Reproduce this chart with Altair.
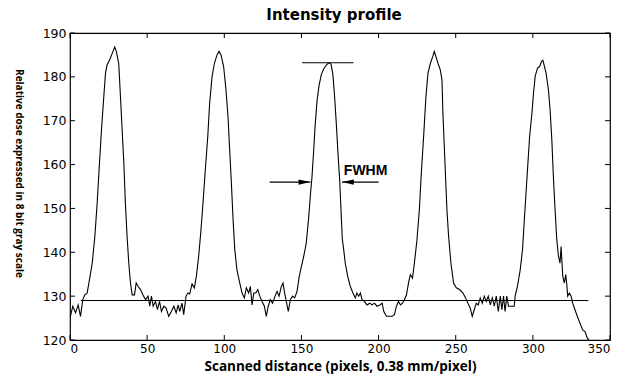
import altair as alt
import pandas as pd

# ---- data ----
profile_x = [0, 1.8, 3.6, 5.3, 6.8, 8.3, 9.6, 11.1, 12.6, 14.4, 16.1, 17.6, 19.1, 20.4, 21.9, 23, 24, 25.6,
             27.3, 29, 29.9, 30.5, 31.6, 32.7, 33.8, 34.9, 35.9, 37, 38.1, 39.2, 40.3, 41.8, 42.9, 44.2,
             45.7, 47.2, 49, 50.6, 51.7, 52.8, 53.9, 55.4, 56.7, 58, 59.3, 60.8, 62.3, 64, 65.7, 67.3,
             68.8, 70.1, 71.1, 72.6, 73.7, 75.2, 76.5, 77.6, 79.1, 80.6, 81.9, 83.4, 84.9, 86.2, 87.7,
             89.3, 90.5, 92.1, 93.6, 95.3, 96.6, 97.9, 99.6, 101.1, 102.4, 103.5, 104.6, 105.7, 106.8,
             108.2, 110, 111.5, 113, 114.3, 115.8, 116.9, 118, 119.1, 120.4, 121.7, 123, 124.5, 126,
             127.2, 128.5, 129.8, 131.3, 132.9, 134.2, 135.5, 137, 138.1, 139.1, 140.2, 141.5, 142.8,
             144.3, 145.6, 147.1, 148.6, 150, 151.5, 153.1, 154.6, 155.8, 156.8, 157.9, 158.9, 160.1,
             161.4, 162.9, 164.4, 166.1, 167.7, 169.2, 170.4, 171.5, 172.6, 173.7, 174.8, 175.6, 176.5,
             177.4, 178.4, 180, 181.7, 183.4, 184.9, 186, 187.1, 188.2, 189.3, 190.8, 192.5, 194.3,
             195.8, 197.3, 199, 200.8, 202.3, 203.4, 205.1, 206.8, 208.8, 210.3, 211.6, 212.9, 214.2,
             215.5, 216.8, 218.1, 219.5, 220.6, 222, 223.2, 224.8, 226.4, 227.7, 229.2, 230.7, 232,
             233.6, 235.1, 236.1, 237.2, 238.5, 240, 241.1, 241.7, 242.6, 243.5, 244.3, 245.4, 246.9,
             248.6, 250.4, 252.5, 254.7, 256.4, 257.9, 259.4, 260.7, 262, 263.3, 264.6, 265.9, 267.2,
             268.5, 269.8, 271.1, 272.4, 273.7, 275, 276.3, 277.6, 278.9, 279.9, 281, 282, 283.1,
             284.2, 286.3, 287.9, 288.5, 290, 291.8, 293.3, 294.6, 296.1, 297.9, 299.4, 300.4, 301.5,
             303, 304.3, 305.6, 306.5, 307.3, 308.6, 310.1, 311.2, 312.3, 313.3, 314.4, 315.5, 316.6,
             317.6, 318.3, 319.4, 320.4, 321.3, 321.9, 322.6, 323.7, 324.8, 325.8, 327.3, 328.8, 330.6,
             332.3, 333.8, 335.3, 336.4]
profile_y = [125, 127.7, 126.2, 128, 125.4, 129.2, 130.3, 130.7, 133.7, 137.5, 143.6, 151.2, 160.3, 167.9,
             175.5, 180.8, 182.7, 183.8, 185.3, 186.8, 186, 185, 183, 175.5, 167.9, 160.3, 151.2, 143.6,
             137.5, 133, 130.3, 130.3, 133, 132.2, 131.5, 130.3, 129.2, 130, 127.7, 130, 127.7, 128.8,
             126.9, 128.8, 126.5, 127.7, 127.3, 125.4, 126.5, 127.7, 126.2, 128, 126.5, 128.4, 125.8,
             130, 130.7, 130.5, 132.8, 131.9, 134.5, 139.1, 145.1, 151.2, 158.8, 166.4, 174, 180.1,
             183.1, 185, 185.8, 185, 182.3, 177, 171, 163.4, 155.8, 147.4, 140.6, 136, 133, 130.7,
             129.6, 131.9, 130.7, 132.2, 128, 130.7, 130.7, 131.5, 130, 128.8, 127.7, 125.4, 127.7,
             129.2, 128.4, 130, 131.1, 130, 132.2, 133, 130.7, 128.8, 126.5, 129.2, 130, 129.6, 131,
             134.5, 136.8, 139.1, 142, 147.5, 153, 157, 163, 169, 174.5, 178, 180.5, 181.8, 182.7,
             183.2, 182.9, 180.5, 175.5, 169.4, 162.5, 156.5, 150, 143, 140.6, 137.5, 134.5, 132.2,
             130.7, 129.6, 130.7, 130, 130.7, 129.2, 128.8, 128, 128.4, 128, 128.4, 127.7, 128, 128.4,
             126.5, 125.4, 125.4, 125.4, 125.8, 127.7, 128.8, 128, 128.4, 129.2, 130.3, 133.2, 134.9,
             134.1, 137.5, 142.5, 149.5, 158, 166.4, 175.5, 180.8, 183.1, 184.6, 185.8, 184.6, 183.1,
             181.6, 179.3, 171.7, 164.1, 156.5, 149.7, 143.6, 137.5, 133, 131.9, 131.5, 130.7, 129.6,
             128.4, 127.3, 125.4, 126.9, 128.4, 128, 129.6, 128.4, 130, 128.8, 130, 128, 129.6, 127.7,
             130, 126.5, 130, 126.9, 130, 126.5, 130, 127.7, 127.7, 127.7, 130, 132.2, 136, 140.6,
             148.1, 156.5, 166.4, 171.7, 176.2, 180.1, 182, 182.3, 183.5, 183.8, 182.7, 180.8, 177,
             172.4, 165.6, 157.3, 149.7, 142.9, 139.1, 137.5, 141.3, 134.5, 133, 134.9, 133, 130,
             130.7, 130, 128.4, 126.9, 125.4, 123.8, 122.3, 121.9, 120.4, 120]

x_ticks = [0, 50, 100, 150, 200, 250, 300, 350]
y_ticks = [120, 130, 140, 150, 160, 170, 180, 190]

# annotation values (data units)
baseline_level = [129]
baseline_from = [7]
baseline_to = [336]
peak_level = [183.2]
peak_from = [150.4]
peak_to = [183.8]
arrow_level = [156]
arrow_left_from = [129.4]
arrow_left_tip = [155.8]
arrow_right_from = [200]
arrow_right_tip = [176.3]
label_text = ["FWHM"]
label_x = [177.5]
label_y = [157.6]

W, H = 540, 307
FONT = "DejaVu Sans"

df = pd.DataFrame({"x": profile_x, "y": profile_y})
xscale = alt.Scale(domain=[0, 350], nice=False, zero=False)
yscale = alt.Scale(domain=[120, 190], nice=False, zero=False)

line = alt.Chart(df).mark_line(color="black", strokeWidth=1.1, clip=True).encode(
    x=alt.X("x:Q", scale=xscale, axis=alt.Axis(
        values=x_ticks, ticks=False, domain=False, grid=False, labelPadding=3,
        labelFont=FONT, labelFontSize=12, labelColor="black",
        title="Scanned distance (pixels, 0.38 mm/pixel)",
        titleFont="Open Sans", titleFontSize=13.5, titleFontWeight="bold", titleColor="black",
        titlePadding=5)),
    y=alt.Y("y:Q", scale=yscale, axis=alt.Axis(
        values=y_ticks, ticks=False, domain=False, grid=False, labelPadding=4,
        labelFont=FONT, labelFontSize=12.5, labelColor="black",
        title="Relative dose expressed in 8 bit gray scale",
        titleFont="Open Sans", titleFontSize=10, titleFontWeight="bold", titleColor="black",
        titleAngle=90, titleX=-52, titleY=140, titleAlign="center", titleBaseline="middle")),
)

hline_df = pd.DataFrame({"y": baseline_level + peak_level,
                         "x1": baseline_from + peak_from,
                         "x2": baseline_to + peak_to})
hlines = alt.Chart(hline_df).mark_rule(color="black", strokeWidth=1.1).encode(
    x=alt.X("x1:Q", scale=xscale), x2="x2:Q", y=alt.Y("y:Q", scale=yscale))

arrow_df = pd.DataFrame({"y": arrow_level * 2,
                         "x1": arrow_left_from + arrow_right_from,
                         "x2": arrow_left_tip + arrow_right_tip})
shafts = alt.Chart(arrow_df).mark_rule(color="black", strokeWidth=1.2).encode(
    x=alt.X("x1:Q", scale=xscale), x2="x2:Q", y=alt.Y("y:Q", scale=yscale))

head_r = alt.Chart(pd.DataFrame({"x": arrow_left_tip, "y": arrow_level})).mark_point(
    shape="M 0 0 L -2 -0.45 L -2 0.45 Z", size=140, filled=True, color="black", opacity=1).encode(
    x=alt.X("x:Q", scale=xscale), y=alt.Y("y:Q", scale=yscale))
head_l = alt.Chart(pd.DataFrame({"x": arrow_right_tip, "y": arrow_level})).mark_point(
    shape="M 0 0 L 2 -0.45 L 2 0.45 Z", size=140, filled=True, color="black", opacity=1).encode(
    x=alt.X("x:Q", scale=xscale), y=alt.Y("y:Q", scale=yscale))

label = alt.Chart(pd.DataFrame({"t": label_text, "x": label_x, "y": label_y})).mark_text(
    align="left", baseline="alphabetic", font="Liberation Sans", fontSize=14, fontWeight="bold",
    color="black").encode(x=alt.X("x:Q", scale=xscale), y=alt.Y("y:Q", scale=yscale), text="t:N")

xt = pd.DataFrame({"v": x_ticks})
yt = pd.DataFrame({"v": y_ticks})
tick_top = alt.Chart(xt).mark_rule(color="black").encode(
    x=alt.X("v:Q", scale=xscale), y=alt.value(0), y2=alt.value(5))
tick_bottom = alt.Chart(xt).mark_rule(color="black").encode(
    x=alt.X("v:Q", scale=xscale), y=alt.value(H), y2=alt.value(H - 5))
tick_left = alt.Chart(yt).mark_rule(color="black").encode(
    y=alt.Y("v:Q", scale=yscale), x=alt.value(0), x2=alt.value(5))
tick_right = alt.Chart(yt).mark_rule(color="black").encode(
    y=alt.Y("v:Q", scale=yscale), x=alt.value(W), x2=alt.value(W - 5))

chart = alt.layer(
    line, hlines, shafts, head_r, head_l, label,
    tick_top, tick_bottom, tick_left, tick_right
).properties(
    width=W, height=H,
    title=alt.TitleParams("Intensity profile", font="DejaVu Sans", fontSize=15,
                          fontWeight="bold", color="black", anchor="middle", offset=4, dx=-6),
    autosize=alt.AutoSizeParams(type="none"),
    padding={"left": 70, "top": 33, "right": 15, "bottom": 37},
    background="white",
).configure_view(stroke="black", strokeWidth=1.2)

chart.save("out.html", embed_options={"renderer": "svg", "actions": False})
